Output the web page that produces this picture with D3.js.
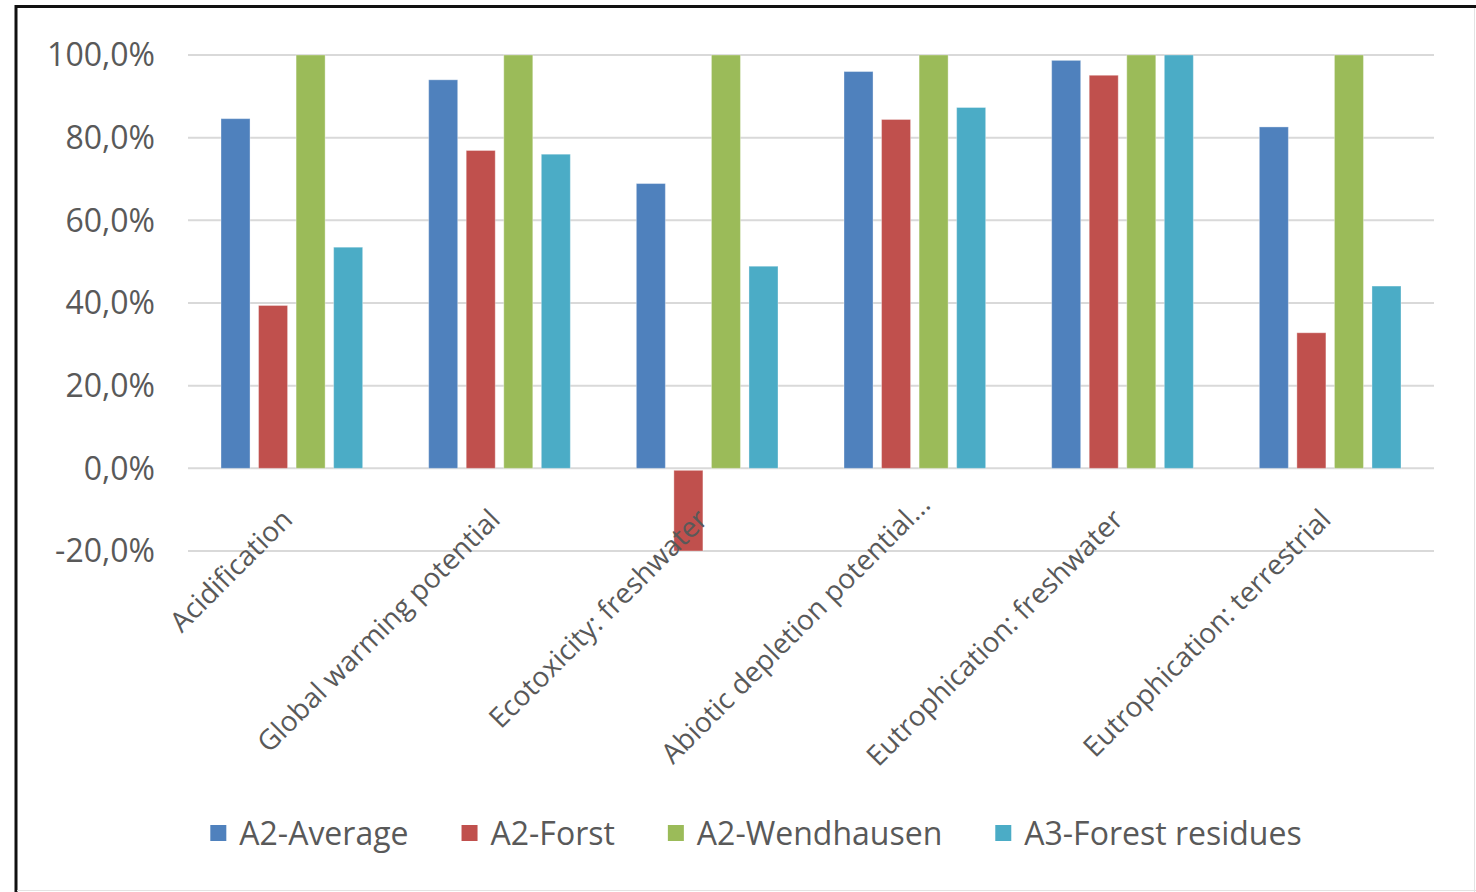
<!DOCTYPE html>
<html>
<head>
<meta charset="utf-8">
<script src="https://cdn.jsdelivr.net/npm/d3@7"></script>
<style>
  body { margin: 0; background: #fff; }
  text { font-family: "Open Sans", sans-serif; fill: #595959; }
</style>
</head>
<body>
<svg id="chart" width="1476" height="892"></svg>
<script>
var categories = ["Acidification", "Global warming potential", "Ecotoxicity: freshwater",
                  "Abiotic depletion potential...", "Eutrophication: freshwater", "Eutrophication: terrestrial"];
var seriesNames = ["A2-Average", "A2-Forst", "A2-Wendhausen", "A3-Forest residues"];
var colors = ["#4f81bd", "#c0504d", "#9bbb59", "#4bacc6"];

var average     = [84.6, 94.0, 68.9, 96.0, 98.7, 82.6];
var forst       = [39.4, 76.9, -20.0, 84.4, 95.1, 32.8];
var wendhausen  = [100, 100, 100, 100, 100, 100];
var forestRes   = [53.5, 76.0, 48.9, 87.3, 100, 44.1];

var yTicks = [-20, 0, 20, 40, 60, 80, 100];

var allSeries = [average, forst, wendhausen, forestRes];

var svg = d3.select("#chart");

// frame
svg.append("line").attr("x1", 15).attr("x2", 1476).attr("y1", 6.5).attr("y2", 6.5)
   .attr("stroke", "#111").attr("stroke-width", 3);
svg.append("line").attr("x1", 16).attr("x2", 16).attr("y1", 5).attr("y2", 892)
   .attr("stroke", "#111").attr("stroke-width", 3);
svg.append("line").attr("x1", 1474.5).attr("x2", 1474.5).attr("y1", 8).attr("y2", 892)
   .attr("stroke", "#e3e3e3").attr("stroke-width", 1);
svg.append("line").attr("x1", 17).attr("x2", 1476).attr("y1", 890.5).attr("y2", 890.5)
   .attr("stroke", "#e3e3e3").attr("stroke-width", 1);

var left = 188, right = 1434;

var y = d3.scaleLinear().domain([-20, 100]).range([551, 55]);

var x0 = d3.scaleBand().domain(categories).range([left, right]).padding(0);
var outer = 33;
var x1 = d3.scaleBand().domain(seriesNames)
    .range([outer, x0.bandwidth() - outer]).paddingInner(0.227);

// gridlines
svg.append("g").selectAll("line").data(yTicks).enter().append("line")
   .attr("x1", left).attr("x2", right)
   .attr("y1", function(d) { return y(d); })
   .attr("y2", function(d) { return y(d); })
   .attr("stroke", "#d9d9d9").attr("stroke-width", 2);

// y axis labels
var fmt = function(d) { return d.toFixed(1).replace(".", ",") + "%"; };
svg.append("g").selectAll("text").data(yTicks).enter().append("text")
   .attr("x", 155)
   .attr("y", function(d) { return y(d); })
   .attr("dy", "0.35em")
   .attr("text-anchor", "end")
   .style("font-size", "32px")
   .text(fmt);

// bars
var groups = svg.append("g").selectAll("g").data(categories).enter().append("g")
   .attr("transform", function(d) { return "translate(" + x0(d) + ",0)"; });

groups.selectAll("rect")
   .data(function(c, i) {
       return seriesNames.map(function(s, j) { return { s: s, j: j, v: allSeries[j][i] }; });
   })
   .enter().append("rect")
   .attr("x", function(d) { return x1(d.s); })
   .attr("width", x1.bandwidth())
   .attr("y", function(d) { return d.v >= 0 ? y(d.v) : y(0) + 2; })
   .attr("height", function(d) { return d.v >= 0 ? y(0) - y(d.v) : y(d.v) - y(0) - 2; })
   .attr("fill", function(d) { return colors[d.j]; })
   .attr("stroke", "#ffffff").attr("stroke-opacity", 0.35).attr("stroke-width", 1);

// category labels, rotated (the truncated one sits a little further out, like Excel does)
svg.append("g").selectAll("text").data(categories).enter().append("text")
   .attr("transform", function(d) {
       var cx = x0(d) + x0.bandwidth() / 2;
       return "translate(" + (cx - 12) + ",507) rotate(-45)";
   })
   .attr("dx", function(d) { return d.slice(-3) === "..." ? 21 : 0; })
   .attr("dy", "0.72em")
   .attr("text-anchor", "end")
   .style("font-size", "28px")
   .text(function(d) { return d; });

// legend
var legend = svg.append("g");
var items = legend.selectAll("g").data(seriesNames).enter().append("g");
items.append("rect").attr("width", 16).attr("height", 16).attr("y", 825)
   .attr("fill", function(d, i) { return colors[i]; });
items.append("text").attr("x", 29).attr("y", 845)
   .style("font-size", "32px")
   .text(function(d) { return d; });

var widths = [];
items.each(function() {
    widths.push(29 + d3.select(this).select("text").node().getComputedTextLength());
});
var gap = 53;
var total = d3.sum(widths) + gap * (widths.length - 1);
var pos = 756 - total / 2;
items.attr("transform", function(d, i) {
    var t = "translate(" + pos + ",0)";
    pos += widths[i] + gap;
    return t;
});
</script>
</body>
</html>
